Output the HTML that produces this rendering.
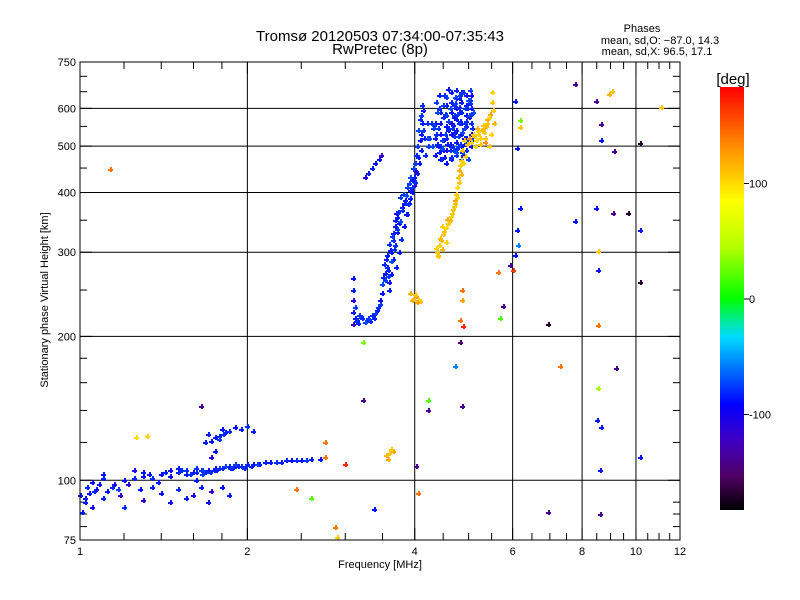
<!DOCTYPE html>
<html><head><meta charset="utf-8"><style>
html,body{margin:0;padding:0;background:#fff;}
svg{display:block;font-family:"Liberation Sans",sans-serif;}
</style></head><body>
<svg id="chart" width="800" height="600" viewBox="0 0 800 600">
<defs>
<linearGradient id="cbar" x1="0" y1="1" x2="0" y2="0">
<stop offset="0" stop-color="#000000"/><stop offset="0.08" stop-color="#500064"/>
<stop offset="0.17" stop-color="#3c00c8"/><stop offset="0.25" stop-color="#0000ff"/>
<stop offset="0.33" stop-color="#006eff"/><stop offset="0.41" stop-color="#00dcff"/>
<stop offset="0.5" stop-color="#00ff00"/><stop offset="0.62" stop-color="#b4ff00"/>
<stop offset="0.73" stop-color="#ffff00"/><stop offset="0.86" stop-color="#ff8c00"/>
<stop offset="1" stop-color="#ff0000"/>
</linearGradient>
</defs>
<text x="380" y="41" font-size="15" text-anchor="middle">Tromsø 20120503 07:34:00-07:35:43</text>
<text x="380" y="54" font-size="15" text-anchor="middle">RwPretec (8p)</text>
<g font-size="11" text-anchor="middle">
<text x="642" y="32">Phases</text>
<text x="660" y="44">mean, sd,O: −87.0, 14.3</text>
<text x="657" y="55">mean, sd,X:  96.5, 17.1</text>
</g>
<g id="grid"></g>
<g id="axes"></g>
<g id="marks"></g>
<rect x="80" y="62" width="600" height="478" fill="none" stroke="#000" stroke-width="1"/>
<text x="380" y="568" font-size="11" text-anchor="middle">Frequency [MHz]</text>
<text x="48" y="300" font-size="11" text-anchor="middle" transform="rotate(-90 48 300)">Stationary phase Virtual Height [km]</text>
<g>
<rect x="720" y="87" width="24" height="423" fill="url(#cbar)"/>
<text x="733" y="84" font-size="15" text-anchor="middle">[deg]</text>
</g>
<g id="cbticks"></g>
</svg>
<script>
// axis ranges
const fMin=1,fMax=12,hMin=75,hMax=750;
const xTicks=[1,2,4,6,8,10,12];
const xGrid=[2,4,6,8,10];
const yTicks=[75,100,200,300,400,500,600,750];
const yGrid=[100,200,300,400,500,600];
const cbTicks=[100,0,-100];
// O-trace E region (low)
const eFreq=[1.0,1.02,1.03,1.05,1.08,1.1,1.15,1.2,1.25,1.3,1.35,1.4,1.45,1.5,1.55,1.6,1.65,1.7,1.75,1.8,1.85,1.9,1.95,2.0,2.05,2.1,2.15,2.2,2.3,2.4,2.5,2.6,2.7,
1.05,1.1,1.12,1.18,1.2,1.28,1.3,1.35,1.4,1.45,1.5,1.55,1.6,1.65,1.7,1.72,1.8,1.85,1.3,1.45,1.5,1.55,1.1,1.25,1.01,1.04,1.07,1.22,1.38,1.62,
1.7,1.72,1.75,1.78,1.8,1.85,1.9,1.95,1.75,1.72,1.68,1.82,2.0,2.05,1.65,
1.58,1.62,1.66,1.68,1.74,1.78,1.82,1.88,1.92,1.98,2.08,2.25,2.35,2.45,2.55,1.52,1.42,1.33,1.62,1.66,1.71,1.76,1.86,1.9,1.97,2.03,1.78,1.81,1.02,1.06,1.14,1.17];
const eHeight=[93,90,97,99,98,101,98,100,101,102,101,103,102,104,103,104,105,105,106,106,107,107,107,108,108,108,109,109,109,110,110,111,111,
88,92,95,93,88,96,91,97,94,90,96,92,93,97,90,95,97,93,104,105,106,105,103,105,86,94,96,98,99,100,
125,121,123,124,128,127,129,128,115,112,120,126,130,127,143,
103,104,105,104,105,106,107,106,107,107,108,109,110,110,110,105,104,103,106,103,104,105,106,108,106,107,122,125,92,95,97,96];
const ePhase=[-95,-100,-90,-105,-100,-95,-110,-100,-95,-100,-90,-100,-105,-95,-100,-100,-95,-100,-105,-95,-100,-100,-90,-95,-100,-105,-95,-100,-95,-100,-100,-95,-100,
-110,-95,-100,-120,-90,-100,-115,-95,-100,-105,-90,-100,-110,-95,-100,-120,-100,-95,-100,-105,-95,-90,-100,-110,-95,-100,-105,-115,-95,-100,
-95,-100,-105,-95,-100,-90,-100,-95,-100,-110,-95,-100,-90,-95,-140,
-90,-95,-85,-90,-95,-90,-85,-90,-95,-90,-85,-90,-95,-90,-85,-90,-95,-100,-90,-85,-90,-95,-90,-85,-90,-95,-85,-90,-100,-95,-90,-85];
// O-trace F region
const fFreq=[3.10,3.10,3.10,3.10,3.10,3.12,3.15,3.2,3.28,3.35,3.42,3.46,3.49,3.51,3.54,3.57,3.61,3.66,3.72,3.79,3.84,3.92,3.95,4.0,4.05,4.09,4.12,4.14,
3.55,3.58,3.6,3.62,3.65,3.68,3.7,3.6,3.63,3.66,3.69,3.72,3.75,3.7,3.74,3.78,3.82,3.86,3.9,3.95,3.98,3.88,3.93,4.0,4.03,4.07,4.1,4.11,3.25,3.3,3.35,3.4,3.45,3.48,
4.35,4.35,4.35,4.45,4.45,4.45,4.45,4.45,4.55,4.55,4.55,4.55,4.55,4.55,4.65,4.65,4.65,4.65,4.65,4.65,4.65,4.75,4.75,4.75,4.75,4.75,4.75,4.75,4.85,4.85,4.85,4.85,4.85,4.85,4.85,4.95,4.95,4.95,4.95,4.95,4.95,5.05,5.05,5.05,5.05,5.05,4.4,4.5,4.6,4.7,4.8,4.9,5.0,4.5,4.6,4.7,4.8,4.9,5.0,4.42,4.52,4.62,4.72,4.82,4.92,5.02,4.6,4.7,4.8,4.9];
const fHeight=[265,250,238,225,212,218,216,220,216,222,227,238,246,266,272,279,303,329,355,373,386,405,425,446,474,515,559,595,
290,275,260,300,318,340,362,250,270,290,310,330,345,280,300,320,340,360,380,400,415,360,390,420,440,460,490,530,430,440,450,460,470,480,
480,520,560,470,500,530,560,590,460,490,520,550,580,610,470,500,530,560,590,620,650,480,510,540,570,600,630,655,470,500,530,560,590,620,650,490,520,550,580,610,640,500,530,560,600,640,500,490,540,580,630,545,615,515,545,575,605,505,575,640,475,505,535,565,600,625,660,610,590,520,470];
const fPhase=[-100,-95,-110,-100,-120,-100,-95,-110,-100,-95,-100,-105,-100,-95,-100,-90,-100,-95,-100,-105,-100,-95,-100,-110,-95,-100,-95,-100,
-100,-95,-105,-100,-90,-100,-110,-95,-100,-100,-90,-105,-100,-95,-100,-90,-100,-105,-95,-100,-110,-95,-100,-90,-105,-100,-95,-100,-110,-100,-95,-105,-100,-120,
-100,-95,-110,-100,-90,-105,-100,-95,-100,-110,-95,-100,-90,-100,-95,-100,-105,-120,-100,-95,-100,-90,-100,-95,-100,-110,-100,-95,-80,-100,-105,-100,-95,-100,-110,-90,-100,-95,-100,-100,-105,-95,-100,-90,-100,-110,-95,-100,-100,-90,-100,-95,-105,-100,-95,-100,-90,-100,-110,-95,-100,-105,-100,-95,-100,-80,-100,-90,-95,-100,-110];
// O-trace F region, additional echoes (thick parts)
const gFreq=[3.12,3.13,3.16,3.18,3.22,3.25,3.3,3.33,3.38,3.4,3.44,3.47,3.5,3.52,3.53,3.56,3.58,3.59,3.62,3.64,3.67,3.68,3.71,3.73,3.76,3.77,3.8,3.81,3.83,3.85,3.87,3.89,3.91,3.93,3.96,3.97,3.99,4.01,4.02,4.04,4.06,4.08,4.1,4.13,
4.25,4.28,4.3,4.32,4.38,4.4,4.42,4.48,4.5,4.52,4.58,4.6,4.62,4.68,4.7,4.72,4.78,4.8,4.82,4.88,4.9,4.92,4.98,5.0,5.02,5.08,5.1,4.37,4.47,4.57,4.67,4.77,4.87,4.97,5.07,4.33,4.43,4.53,4.63,4.73,4.83,4.93,5.03,4.39,4.49,4.59,4.69,4.79,4.89,4.99,4.56,4.66,4.76,4.86,4.96,4.36,4.46,4.54,4.64,4.74,4.84,4.94,5.04,4.2,4.18,4.22,4.16,4.14,4.2];
const gHeight=[230,215,213,222,218,214,219,215,218,224,230,234,258,284,262,296,268,312,288,325,305,350,335,365,348,392,368,398,380,395,410,378,418,430,410,450,432,460,480,500,540,570,580,610,
520,560,500,545,505,545,600,495,610,640,505,565,600,490,525,615,500,560,640,480,545,600,470,580,615,515,590,530,515,505,545,495,535,510,545,555,485,585,490,635,505,560,655,590,575,565,555,525,650,625,635,500,585,485,600,620,470,530,475,485,645,565,585,520,480,500,520,540,560,460];
const gPhase=[-85,-90,-95,-85,-90,-80,-85,-90,-95,-85,-90,-85,-80,-90,-85,-95,-85,-90,-80,-85,-90,-95,-85,-90,-80,-85,-90,-85,-95,-80,-85,-90,-85,-80,-90,-85,-95,-85,-90,-85,-80,-90,-85,-90,
-85,-90,-80,-85,-95,-85,-90,-80,-85,-90,-85,-95,-80,-85,-90,-85,-80,-90,-85,-95,-85,-90,-80,-85,-90,-85,-80,-90,-85,-95,-85,-90,-80,-85,-90,-85,-95,-85,-90,-80,-85,-90,-85,-80,-90,-85,-95,-85,-90,-80,-85,-90,-85,-80,-90,-85,-95,-85,-90,-80,-85,-90,-85,-80,-90,-85,-95,-85,-90,-85];
// X-trace (yellow)
const xFreq=[4.38,4.42,4.46,4.5,4.55,4.6,4.62,4.66,4.7,4.72,4.74,4.76,4.78,4.8,4.82,4.85,4.87,4.9,5.0,5.09,5.2,5.3,5.4,5.47,5.5,5.5,5.45,5.35,5.25,5.15,5.4,5.3,5.2,
3.92,3.97,4.02,4.06,4.09,3.55,3.6,3.65,1.26,1.32,4.4,4.48,4.55,
4.36,4.41,4.44,4.48,4.52,4.57,4.64,4.68,4.73,4.77,4.81,4.84,4.88,4.92,4.96,5.05,5.12,5.18,5.25,5.32,5.38,5.44,5.52,5.55,5.48,5.36,5.28,5.14,3.95,4.0,4.04,3.58,3.63];
const xHeight=[300,310,318,328,338,345,350,362,375,386,398,410,430,445,456,468,490,515,520,530,538,545,560,585,620,650,500,510,505,515,570,555,530,
246,240,243,238,237,113,114,115,123,124,295,305,315,
306,296,322,340,332,352,358,370,380,392,420,438,460,478,505,510,525,545,520,535,552,575,595,560,530,520,540,500,238,245,236,111,116];
const xPhase=[100,95,110,100,90,100,105,100,95,120,100,90,100,110,95,100,105,100,130,100,95,110,100,120,100,95,100,130,100,90,110,100,95,
110,100,120,95,100,110,100,120,90,95,100,110,95,
95,100,105,95,100,110,95,100,105,95,100,110,95,100,105,95,100,110,95,100,105,95,100,110,95,100,105,95,110,100,120,110,100];
// scattered echoes
const sFreq=[7.77,8.47,9.06,8.95,11.1,8.65,9.13,8.65,6.05,6.18,6.18,6.11,6.18,6.11,6.13,6.06,5.93,6.0,5.65,5.76,5.69,4.86,4.86,4.83,4.88,4.83,4.73,4.86,4.22,4.22,6.95,7.3,8.47,8.54,8.54,8.54,8.54,8.5,8.65,8.61,8.61,9.2,10.17,10.17,10.17,10.17,9.1,9.67,7.77,6.95,3.23,3.23,3.0,2.76,2.76,2.6,2.45,2.87,2.9,4.05,4.02,3.38,1.13];
const sHeight=[675,621,652,643,604,556,489,515,621,567,548,496,371,334,310,296,282,275,273,231,218,250,238,216,210,195,173,143,140,147,212,173,371,302,275,211,156,134,129,105,85,172,507,334,260,112,362,362,349,86,195,147,108,120,112,92,96,80,76,94,107,87,447];
const sPhase=[-140,-140,100,110,100,-140,-140,-100,-100,30,100,-100,-100,-100,-60,-100,-140,160,140,-140,20,140,120,140,170,-150,-60,-140,-140,20,-170,140,-100,100,-100,140,40,-100,-100,-100,-140,-140,-170,-100,-170,-100,-140,-170,-100,-140,30,-140,170,140,140,20,140,140,100,140,-140,-100,140];

const X=f=>80+600*Math.log10(f/fMin)/Math.log10(fMax/fMin);
const Y=h=>540-478*Math.log10(h/hMin)/Math.log10(hMax/hMin);
const cbY=p=>299-p*1.155;
const NS="http://www.w3.org/2000/svg";
function mk(tag,attrs,parent){const e=document.createElementNS(NS,tag);for(const k in attrs)e.setAttribute(k,attrs[k]);parent.appendChild(e);return e;}
const stops=[[0,0,0,0],[0.08,80,0,100],[0.17,60,0,200],[0.23,0,20,255],[0.33,0,120,255],[0.41,0,220,255],[0.5,0,255,0],[0.62,180,255,0],[0.73,255,230,0],[0.86,255,140,0],[1,255,0,0]];
function col(p){let t=Math.max(0,Math.min(1,(p+183)/366));for(let i=1;i<stops.length;i++){if(t<=stops[i][0]){const a=stops[i-1],b=stops[i],u=(t-a[0])/(b[0]-a[0]);return `rgb(${Math.round(a[1]+u*(b[1]-a[1]))},${Math.round(a[2]+u*(b[2]-a[2]))},${Math.round(a[3]+u*(b[3]-a[3]))})`;}}return "red";}

const grid=document.getElementById('grid'),axes=document.getElementById('axes'),marks=document.getElementById('marks'),cbt=document.getElementById('cbticks');
xGrid.forEach(f=>{const l=mk('line',{x1:X(f),x2:X(f),y1:62,y2:540,stroke:'#000'},grid);

});
yGrid.forEach(h=>{const l=mk('line',{x1:80,x2:680,y1:Y(h),y2:Y(h),stroke:'#000'},grid);

});
xTicks.forEach(f=>{const t=mk('text',{x:X(f),y:555,'font-size':11,'text-anchor':'middle'},axes);t.textContent=f;

});
yTicks.forEach(h=>{const t=mk('text',{x:76,y:Y(h)+4,'font-size':11,'text-anchor':'end'},axes);t.textContent=h;

});
const xMinor=[1.2,1.4,1.6,1.8,2.5,3,3.5,4.5,5,5.5,6.5,7,7.5,8.5,9,9.5,10.5,11,11.5];
xMinor.forEach(f=>{mk('line',{x1:X(f),x2:X(f),y1:540,y2:533,stroke:'#000'},axes);mk('line',{x1:X(f),x2:X(f),y1:62,y2:69,stroke:'#000'},axes);});
xTicks.forEach(f=>{mk('line',{x1:X(f),x2:X(f),y1:540,y2:528,stroke:'#000'},axes);mk('line',{x1:X(f),x2:X(f),y1:62,y2:74,stroke:'#000'},axes);});
const yMinor=[80,85,90,120,140,160,180,250,350,450,550,650,700];
yMinor.forEach(h=>{mk('line',{x1:80,x2:87,y1:Y(h),y2:Y(h),stroke:'#000'},axes);mk('line',{x1:680,x2:673,y1:Y(h),y2:Y(h),stroke:'#000'},axes);});
yTicks.forEach(h=>{mk('line',{x1:80,x2:92,y1:Y(h),y2:Y(h),stroke:'#000'},axes);mk('line',{x1:680,x2:668,y1:Y(h),y2:Y(h),stroke:'#000'},axes);});
cbTicks.forEach(p=>{mk('line',{x1:744,x2:749,y1:cbY(p),y2:cbY(p),stroke:'#000'},cbt);
const t=mk('text',{x:749,y:cbY(p)+4,'font-size':11},cbt);t.textContent=p;

});
function plot(F,H,P,name){for(let i=0;i<F.length;i++){const x=Math.round(X(F[i])),y=Math.round(Y(H[i]));const c=col(P[i]);
const g=mk('g',{fill:c},marks);


mk('rect',{x:x-2,y:y,width:5,height:2},g);mk('rect',{x:x,y:y-2,width:2,height:5},g);}}
plot(eFreq,eHeight,ePhase,'o-trace-e-point');
plot(fFreq,fHeight,fPhase,'o-trace-f-point');
plot(gFreq,gHeight,gPhase,'o-trace-f-point');
plot(xFreq,xHeight,xPhase,'x-trace-point');
plot(sFreq,sHeight,sPhase,'scatter-point');
</script>
</body></html>
